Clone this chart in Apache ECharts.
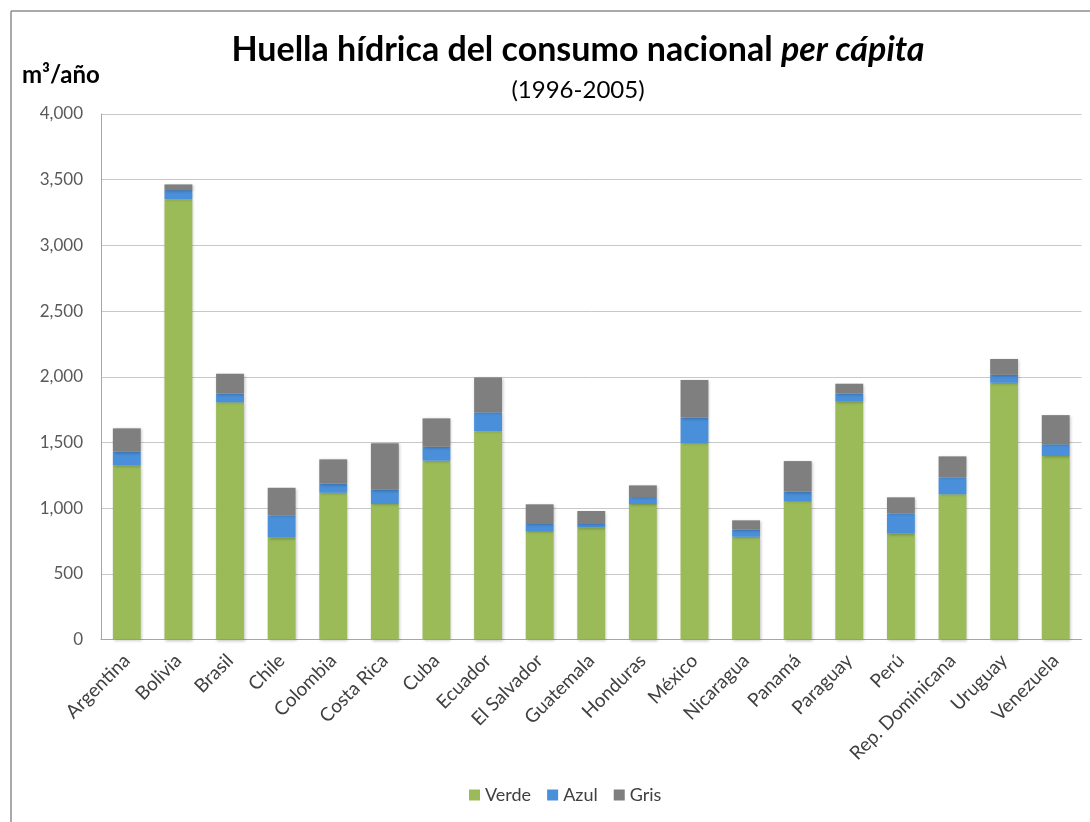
<!DOCTYPE html>
<html>
<head>
<meta charset="utf-8">
<script src="https://cdn.jsdelivr.net/npm/echarts@6/dist/echarts.min.js"></script>
<style>html,body{margin:0;padding:0;background:#fff}#c{width:1090px;height:822px}</style>
</head>
<body>
<div id="c"></div>
<script>
const categories = ["Argentina","Bolivia","Brasil","Chile","Colombia","Costa Rica","Cuba","Ecuador","El Salvador","Guatemala","Honduras","México","Nicaragua","Panamá","Paraguay","Perú","Rep. Dominicana","Uruguay","Venezuela"];
const verde = [1323,3352,1805,775,1117,1031,1361,1584,826,851,1031,1495,782,1054,1810,805,1105,1954,1397];
const azul  = [106,69,66,170,69,109,106,145,53,28,53,193,54,71,61,155,129,61,89];
const gris  = [178,43,152,210,185,353,216,266,150,99,89,287,71,233,76,122,160,120,222];
const yTicks = [0,500,1000,1500,2000,2500,3000,3500,4000];

const FONT = 'Lato, "Open Sans", sans-serif';
const chart = echarts.init(document.getElementById('c'), null, {renderer:'canvas'});
const shadow = {shadowColor:'rgba(0,0,0,0.25)', shadowBlur:3, shadowOffsetX:1, shadowOffsetY:1};
function mk(name, data, color){
  return {name, type:'bar', stack:'t', data, barCategoryGap:'46%',
    itemStyle:Object.assign({color}, shadow), emphasis:{disabled:true}};
}
chart.setOption({
  animation:false,
  backgroundColor:'#fff',
  title:{
    text:'{b|Huella hídrica del consumo nacional }{bi|per cápita}',
    subtext:'(1996-2005)',
    left:573, textAlign:'center', top:28, itemGap:11,
    textStyle:{rich:{
      b:{fontFamily:FONT,fontWeight:'bold',fontSize:34,color:'#000'},
      bi:{fontFamily:FONT,fontWeight:'bold',fontStyle:'italic',fontSize:34,color:'#000'}}},
    subtextStyle:{fontFamily:FONT,fontSize:24,color:'#000'}
  },
  graphic:[
    {type:'line',shape:{x1:11,y1:11,x2:1090,y2:11},style:{stroke:'#8c8c8c',lineWidth:1.5}},
    {type:'line',shape:{x1:11,y1:11,x2:11,y2:822},style:{stroke:'#8c8c8c',lineWidth:1.5}},
    {type:'text',left:22,top:63,style:{text:'m³/año',font:'bold 24px '+FONT,fill:'#000'}}
  ],
  legend:{
    data:['Verde','Azul','Gris'], bottom:13, left:464, itemWidth:11, itemHeight:11, itemGap:16,
    icon:'rect', textStyle:{fontFamily:FONT,fontSize:18,color:'#404040'}
  },
  grid:{left:101,right:8.5,top:114,bottom:182.5,containLabel:false},
  xAxis:{type:'category',data:categories,
    axisLine:{lineStyle:{color:'#a6a6a6'}},axisTick:{show:false},
    axisLabel:{rotate:45,interval:0,fontFamily:FONT,fontSize:19,color:'#404040',margin:18}},
  yAxis:{type:'value',min:0,max:4000,interval:500,
    axisLine:{show:true,lineStyle:{color:'#a6a6a6'}},
    splitLine:{lineStyle:{color:'#c8c8c8'}},
    axisLabel:{fontFamily:FONT,fontSize:17,color:'#595959',margin:18,
      formatter:v=>yTicks.includes(v)?v.toLocaleString('en-US'):''}},
  series:[mk('Verde',verde,'#9bbb59'),mk('Azul',azul,'#4a8fd9'),mk('Gris',gris,'#7f7f7f')]
});
</script>
</body>
</html>
